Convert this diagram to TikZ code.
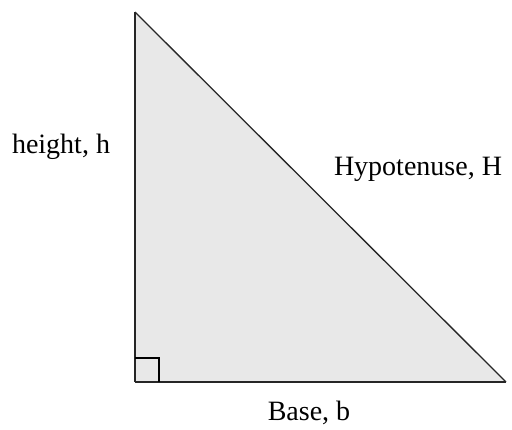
\documentclass[tikz,border=0pt]{standalone}
\usepackage{fontspec}
\setmainfont{Liberation Serif}
\begin{document}
\begin{tikzpicture}[x=1pt,y=-1pt,
  lbl/.style={anchor=base,inner sep=0pt,font=\fontsize{28}{30}\selectfont},
  edge/.style={line width=1.8pt,black!85}]
\useasboundingbox (0,0) rectangle (512,429);
\coordinate (A) at (135,12);
\coordinate (C) at (135,382);
\coordinate (B) at (506,382);
\fill[gray!18] (A) -- (C) -- (B) -- cycle;
\draw[edge] (C) -- (A);
\draw[line width=1.3pt,black!85] (A) -- (B);
\draw[edge] (C) -- (B);
\draw[line width=2.6pt] (135,358) -- (159,358) -- (159,382);
\node[lbl] (h) at (61,153) {height, h};
\node[lbl] (H) at (418,175) {Hypotenuse, H};
\node[lbl] (b) at (309,420) {Base, b};
\end{tikzpicture}
\end{document}
